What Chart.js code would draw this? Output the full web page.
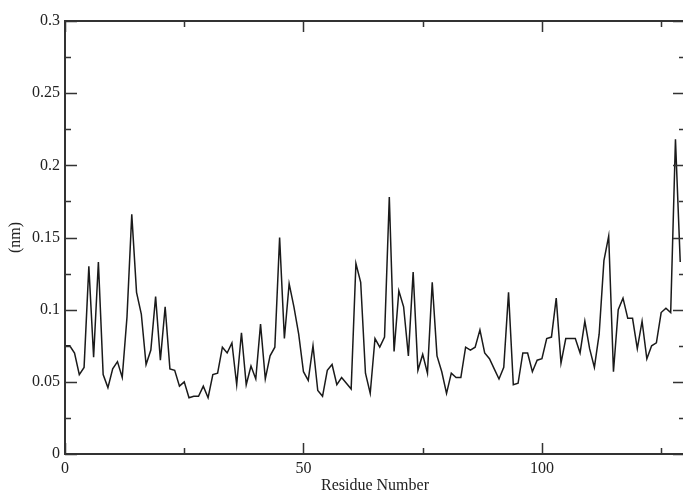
<!DOCTYPE html>
<html>
<head>
<meta charset="utf-8">
<script src="https://cdn.jsdelivr.net/npm/chart.js@4/dist/chart.umd.min.js"></script>
<style>
  html, body { margin: 0; padding: 0; background: #fff; overflow: hidden; }
  canvas { display: block; }
</style>
</head>
<body>
<canvas id="rmsf" width="686" height="494"></canvas>
<script>
// residue numbers along x
var residues = [
  0, 1, 2, 3, 4, 5, 6, 7, 8, 9, 10, 11, 12, 13, 14, 15, 16, 17, 18, 19,
  20, 21, 22, 23, 24, 25, 26, 27, 28, 29, 30, 31, 32, 33, 34, 35, 36, 37, 38, 39,
  40, 41, 42, 43, 44, 45, 46, 47, 48, 49, 50, 51, 52, 53, 54, 55, 56, 57, 58, 59,
  60, 61, 62, 63, 64, 65, 66, 67, 68, 69, 70, 71, 72, 73, 74, 75, 76, 77, 78, 79,
  80, 81, 82, 83, 84, 85, 86, 87, 88, 89, 90, 91, 92, 93, 94, 95, 96, 97, 98, 99,
  100, 101, 102, 103, 104, 105, 106, 107, 108, 109, 110, 111, 112, 113, 114, 115, 116, 117, 118, 119,
  120, 121, 122, 123, 124, 125, 126, 127, 128, 129
];

// fluctuation per residue (nm)
var fluct = [
  0.075, 0.075, 0.070, 0.055, 0.060, 0.130, 0.067, 0.133, 0.055, 0.046,
  0.059, 0.064, 0.053, 0.095, 0.166, 0.112, 0.097, 0.062, 0.072, 0.109,
  0.065, 0.102, 0.059, 0.058, 0.047, 0.050, 0.039, 0.040, 0.040, 0.047,
  0.039, 0.055, 0.056, 0.074, 0.070, 0.077, 0.048, 0.084, 0.048, 0.061,
  0.052, 0.090, 0.052, 0.068, 0.074, 0.150, 0.080, 0.118, 0.102, 0.083,
  0.057, 0.051, 0.075, 0.044, 0.040, 0.058, 0.062, 0.048, 0.053, 0.049,
  0.045, 0.132, 0.119, 0.056, 0.042, 0.080, 0.074, 0.081, 0.178, 0.071,
  0.113, 0.102, 0.068, 0.126, 0.058, 0.069, 0.056, 0.119, 0.068, 0.057,
  0.042, 0.056, 0.053, 0.053, 0.074, 0.072, 0.074, 0.086, 0.070, 0.066,
  0.059, 0.052, 0.060, 0.112, 0.048, 0.049, 0.070, 0.070, 0.057, 0.065,
  0.066, 0.080, 0.081, 0.108, 0.063, 0.080, 0.080, 0.080, 0.070, 0.092,
  0.073, 0.060, 0.083, 0.134, 0.151, 0.057, 0.100, 0.108, 0.094, 0.094,
  0.073, 0.092, 0.066, 0.075, 0.077, 0.098, 0.101, 0.098, 0.218, 0.133
];

// tick positions
var xMajor = [0, 50, 100];
var xMinor = [25, 75, 125];
var yMajor = [0, 0.05, 0.1, 0.15, 0.2, 0.25, 0.3];
var yMinor = [0.025, 0.075, 0.125, 0.175, 0.225, 0.275];

var points = residues.map(function (r, i) { return { x: r, y: fluct[i] }; });

var serif = { family: "'Liberation Serif', 'DejaVu Serif', serif", size: 16 };
var axisColor = '#333';

// frame with inward ticks on all four sides, like xmgrace
var frameTicks = {
  id: 'frameTicks',
  afterDraw: function (chart) {
    var a = chart.chartArea, xs = chart.scales.x, ys = chart.scales.y;
    var c = chart.ctx;
    c.save();
    c.strokeStyle = axisColor;
    c.lineWidth = 2;
    c.strokeRect(a.left, a.top, a.right - a.left, a.bottom - a.top);
    c.lineWidth = 1.5;
    function xt(v, len) {
      var px = Math.round(xs.getPixelForValue(v)) + 0.5;
      c.beginPath();
      c.moveTo(px, a.bottom); c.lineTo(px, a.bottom - len);
      c.moveTo(px, a.top); c.lineTo(px, a.top + len);
      c.stroke();
    }
    function yt(v, len) {
      var py = Math.round(ys.getPixelForValue(v)) + 0.5;
      c.beginPath();
      c.moveTo(a.left, py); c.lineTo(a.left + len, py);
      c.moveTo(a.right, py); c.lineTo(a.right - len, py);
      c.stroke();
    }
    xMajor.forEach(function (v) { xt(v, 11); });
    xMinor.forEach(function (v) { xt(v, 6); });
    yMajor.forEach(function (v) { yt(v, 12); });
    yMinor.forEach(function (v) { yt(v, 6); });
    c.restore();
  }
};

var ctx_rmsf = document.getElementById('rmsf');
var rmsf = new Chart(ctx_rmsf, {
  type: 'line',
  data: {
    datasets: [
      {
        label: 'RMSF',
        data: points,
        borderColor: '#1a1a1a',
        borderWidth: 1.5,
        pointRadius: 0,
        tension: 0,
        fill: false
      }
    ]
  },
  options: {
    responsive: false,
    animation: false,
    layout: { padding: { top: 21, right: 1, left: 0, bottom: 0 } },
    scales: {
      x: {
        type: 'linear',
        min: 0,
        max: 130,
        grid: { display: false, drawTicks: false },
        border: { display: false },
        afterBuildTicks: function (s) { s.ticks = xMajor.map(function (v) { return { value: v }; }); },
        afterFit: function (s) { s.height = 40; },
        ticks: { color: '#222', font: serif, padding: 5, maxRotation: 0 },
        title: {
          display: true,
          text: 'Residue Number',
          color: '#222',
          font: { family: serif.family, size: 16, lineHeight: 1 },
          padding: { top: 0, bottom: 0 }
        }
      },
      y: {
        min: 0,
        max: 0.3,
        grid: { display: false, drawTicks: false },
        border: { display: false },
        afterBuildTicks: function (s) { s.ticks = yMajor.map(function (v) { return { value: v }; }); },
        afterFit: function (s) { s.width = 65; },
        ticks: {
          color: '#222',
          font: serif,
          padding: 5,
          callback: function (v) { return String(+v.toFixed(3)); }
        },
        title: {
          display: true,
          text: '(nm)',
          color: '#222',
          font: { family: serif.family, size: 16, lineHeight: 1 },
          padding: { top: 8, bottom: 0 }
        }
      }
    },
    plugins: {
      legend: { display: false },
      tooltip: { enabled: false }
    }
  },
  plugins: [frameTicks]
});
</script>
</body>
</html>
